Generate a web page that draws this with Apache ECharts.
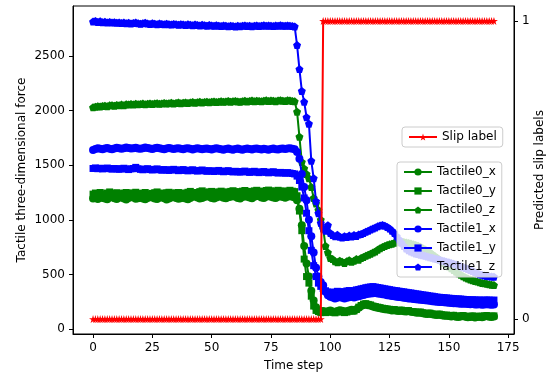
<!DOCTYPE html>
<html>
<head>
<meta charset="utf-8">
<script src="https://cdn.jsdelivr.net/npm/echarts@6/dist/echarts.min.js"></script>
<style>html,body{margin:0;padding:0;background:#fff}#c{width:552px;height:374px}</style>
</head>
<body>
<div id="c"></div>
<script>
// ---- data ----
const seriesNames = ['Tactile0_x','Tactile0_y','Tactile0_z','Tactile1_x','Tactile1_y','Tactile1_z'];
const slipName = 'Slip label';
const xTicks = [0,25,50,75,100,125,150,175];
const yTicks = [0,500,1000,1500,2000,2500];
const slipTicks = [0,1];

const tactile0_x = [
1195,1205,1190,1210,1200,1195,1188,1205,1212,1198,
1190,1202,1208,1195,1185,1200,1210,1203,1192,1198,
1205,1196,1188,1200,1212,1205,1195,1190,1202,1208,
1198,1186,1195,1205,1210,1200,1192,1198,1206,1195,
1188,1200,1210,1215,1205,1196,1200,1208,1220,1212,
1200,1195,1205,1215,1210,1202,1198,1206,1212,1218,
1210,1200,1195,1208,1215,1210,1205,1198,1212,1220,
1215,1205,1200,1210,1218,1212,1205,1200,1210,1215,
1208,1202,1212,1218,1210,1205,
1180,1100,950,760,600,480,350,260,200,170,160,
165,158,162,170,160,155,165,172,168,160,
162,170,175,168,180,195,210,220,225,218,
215,205,200,195,190,185,180,178,175,170,
172,168,165,170,162,160,165,158,155,150,
148,152,145,140,138,142,135,130,128,132,
125,120,122,118,115,120,112,110,115,118,
112,108,110,115,105,110,112,108,115,118,
112,110,115];

const tactile0_y = [
1235,1245,1240,1250,1238,1232,1245,1255,1242,1236,
1248,1240,1232,1245,1250,1242,1238,1246,1252,1240,
1235,1244,1250,1238,1230,1242,1248,1255,1245,1240,
1236,1248,1252,1244,1238,1246,1250,1242,1236,1245,
1252,1260,1248,1242,1250,1258,1265,1252,1246,1255,
1260,1250,1245,1256,1262,1255,1248,1252,1260,1266,
1258,1250,1256,1262,1268,1260,1254,1258,1265,1270,
1262,1255,1260,1268,1272,1265,1258,1262,1270,1265,
1260,1256,1264,1270,1262,1258,
1220,1080,900,640,480,420,300,210,170,160,150,
155,150,158,162,152,148,155,160,158,150,
155,162,170,165,178,200,215,228,232,225,
220,210,205,200,195,190,186,182,180,176,
178,172,168,172,165,162,168,160,158,155,
150,155,148,145,140,145,138,135,132,136,
130,125,128,122,120,125,118,115,120,122,
118,112,115,120,110,115,118,112,120,122,
118,115,120];

const tactile0_z = [
2030,2035,2040,2038,2042,2045,2040,2048,2050,2045,
2052,2048,2055,2050,2058,2055,2060,2056,2062,2058,
2060,2064,2058,2062,2066,2060,2065,2068,2062,2066,
2070,2065,2068,2072,2066,2070,2074,2068,2072,2075,
2070,2074,2078,2072,2076,2080,2074,2078,2082,2076,
2080,2084,2078,2082,2086,2080,2084,2088,2082,2086,
2088,2084,2080,2086,2090,2084,2088,2092,2086,2090,
2088,2085,2090,2094,2088,2092,2090,2086,2092,2095,
2090,2088,2094,2092,2088,2085,
1990,1760,1530,1470,1420,1380,1300,1200,1150,1090,1000,
920,760,700,650,640,620,610,625,615,605,
620,630,615,625,640,635,650,660,670,680,
690,700,710,725,740,750,760,770,775,780,
790,795,800,800,796,792,788,782,776,770,
762,752,740,728,714,700,684,668,652,636,
620,604,588,572,556,540,524,510,496,484,
472,462,454,446,440,434,428,422,418,414,
410,406,402];

const tactile1_x = [
1640,1648,1655,1650,1645,1652,1658,1650,1646,1654,
1660,1655,1650,1656,1662,1658,1652,1656,1660,1654,
1650,1656,1662,1658,1652,1648,1655,1660,1656,1650,
1646,1652,1658,1654,1648,1652,1656,1650,1646,1652,
1656,1650,1644,1650,1655,1650,1645,1650,1654,1648,
1644,1650,1655,1650,1646,1642,1648,1652,1646,1642,
1648,1652,1646,1642,1648,1652,1648,1644,1650,1654,
1648,1644,1650,1646,1642,1648,1652,1646,1644,1650,
1654,1648,1652,1656,1650,1645,
1620,1560,1420,1300,1180,1000,850,700,560,480,430,
400,340,310,295,288,280,285,292,286,280,
285,290,295,288,296,300,306,312,318,322,
325,328,330,326,322,318,315,310,306,302,
300,296,292,290,286,284,280,278,275,272,
270,268,265,262,260,258,255,252,250,248,
246,244,242,240,238,236,235,234,232,230,
230,228,226,228,225,224,226,222,224,226,
224,222,225];

const tactile1_y = [
1470,1475,1468,1472,1466,1470,1474,1468,1464,1470,
1466,1462,1468,1472,1465,1460,1466,1470,1480,1468,
1462,1458,1464,1468,1460,1456,1462,1466,1458,1454,
1460,1456,1452,1458,1462,1456,1450,1455,1460,1452,
1448,1454,1458,1450,1446,1452,1456,1448,1444,1450,
1446,1442,1448,1452,1444,1440,1446,1450,1442,1438,
1444,1440,1436,1442,1446,1438,1434,1440,1444,1436,
1432,1438,1442,1434,1430,1436,1440,1432,1428,1434,
1430,1426,1432,1428,1424,1420,
1400,1360,1300,1200,1060,900,720,580,480,420,390,
370,350,340,335,330,338,345,340,335,342,
348,352,345,350,358,362,368,372,378,382,
385,388,384,380,376,372,368,364,360,356,
352,350,346,342,340,336,332,330,326,322,
320,316,312,310,306,302,300,296,292,290,
288,286,284,282,280,278,276,275,274,272,
270,268,266,268,265,264,266,262,264,266,
264,262,265];

const tactile1_z = [
2815,2820,2812,2818,2810,2814,2808,2812,2806,2810,
2804,2808,2802,2806,2800,2805,2798,2802,2806,2800,
2796,2800,2804,2798,2794,2800,2796,2792,2798,2794,
2790,2796,2792,2788,2794,2790,2786,2792,2788,2784,
2790,2786,2782,2788,2784,2780,2786,2782,2778,2784,
2780,2776,2782,2778,2774,2780,2776,2772,2778,2774,
2770,2776,2772,2776,2780,2774,2778,2772,2776,2780,
2774,2778,2782,2776,2780,2778,2774,2780,2776,2782,
2778,2776,2780,2776,2774,2770,
2600,2380,2180,2080,1940,1880,1540,1380,1170,1060,970,
920,900,950,880,860,850,862,845,838,850,
842,855,848,860,852,865,870,880,890,900,
910,920,930,940,948,952,945,935,920,900,
880,850,820,790,760,738,720,710,700,692,
686,680,675,670,664,658,652,646,640,634,
628,622,616,610,604,598,590,582,574,566,
558,550,540,530,520,510,502,496,490,486,
482,480,478];

const slipLabel = [
0,0,0,0,0,0,0,0,0,0,
0,0,0,0,0,0,0,0,0,0,
0,0,0,0,0,0,0,0,0,0,
0,0,0,0,0,0,0,0,0,0,
0,0,0,0,0,0,0,0,0,0,
0,0,0,0,0,0,0,0,0,0,
0,0,0,0,0,0,0,0,0,0,
0,0,0,0,0,0,0,0,0,0,
0,0,0,0,0,0,0,0,0,0,
0,0,0,0,0,0,0,
1,1,1,
1,1,1,1,1,1,1,1,1,1,
1,1,1,1,1,1,1,1,1,1,
1,1,1,1,1,1,1,1,1,1,
1,1,1,1,1,1,1,1,1,1,
1,1,1,1,1,1,1,1,1,1,
1,1,1,1,1,1,1,1,1,1,
1,1,1,1,1,1,1,1,1,1];

// ---- chart ----
const FONT = 'DejaVu Sans';
const PENTAGON = 'path://M0,-1 L0.951,-0.309 L0.588,0.809 L-0.588,0.809 L-0.951,-0.309 Z';
const STAR = 'path://M0,-1 L0.2245,-0.309 L0.951,-0.309 L0.363,0.118 L0.588,0.809 L0,0.382 L-0.588,0.809 L-0.363,0.118 L-0.951,-0.309 L-0.2245,-0.309 Z';
const tactileData = [tactile0_x, tactile0_y, tactile0_z, tactile1_x, tactile1_y, tactile1_z];
const colors = ['#008000','#008000','#008000','#0000ff','#0000ff','#0000ff'];
const symbols = ['circle','rect',PENTAGON,'circle','rect',PENTAGON];
const sizes = [8,7,8,8,7,8];
const pair = arr => arr.map((v, i) => [i, v]);

const series = tactileData.map((arr, k) => ({
  name: seriesNames[k], type: 'line', xAxisIndex: 0, yAxisIndex: 0,
  data: pair(arr), symbol: symbols[k], symbolSize: sizes[k], showSymbol: true,
  lineStyle: { width: 2, color: colors[k] }, itemStyle: { color: colors[k] },
  emphasis: { disabled: true }, z: 2 + k
}));
series.push({
  name: slipName, type: 'line', xAxisIndex: 0, yAxisIndex: 1,
  data: pair(slipLabel), symbol: STAR, symbolSize: 8, showSymbol: true,
  lineStyle: { width: 2, color: '#ff0000' }, itemStyle: { color: '#ff0000' },
  emphasis: { disabled: true }, z: 10
});

const plain = v => String(v);
const axisCommon = {
  axisLine: { show: true, onZero: false, lineStyle: { color: '#000', width: 1 } },
  axisTick: { show: true, length: 4, lineStyle: { color: '#000' } },
  axisLabel: { color: '#000', fontFamily: FONT, fontSize: 12, margin: 8, formatter: plain },
  splitLine: { show: false },
  nameMoveOverlap: false,
  nameTextStyle: { color: '#000', fontFamily: FONT, fontSize: 12 }
};

const legendCommon = {
  orient: 'vertical', backgroundColor: 'rgba(255,255,255,0.8)',
  borderColor: '#cccccc', borderWidth: 1, borderRadius: 3,
  itemWidth: 28, itemHeight: 9, itemGap: 7, selectedMode: false, z: 30,
  textStyle: { color: '#000', fontFamily: FONT, fontSize: 12 }
};

const chart = echarts.init(document.getElementById('c'), null, { renderer: 'canvas' });
chart.setOption({
  animation: false,
  backgroundColor: '#fff',
  grid: { left: 73, right: 38, top: 6, bottom: 40, containLabel: false, outerBoundsMode: 'none',
          show: true, borderColor: '#000', borderWidth: 1, backgroundColor: 'transparent' },
  legend: [
    Object.assign({}, legendCommon, { data: [slipName], left: 402, top: 127, padding: [4, 6, 4, 6] }),
    Object.assign({}, legendCommon, { data: seriesNames, left: 397, top: 162, padding: [4, 6, 4, 6] })
  ],
  xAxis: [Object.assign({}, axisCommon, {
    type: 'value', min: -8.45, max: 177.45,
    name: 'Time step', nameLocation: 'middle', nameGap: 26,
    axisTick: Object.assign({}, axisCommon.axisTick, { customValues: xTicks }),
    axisLabel: Object.assign({}, axisCommon.axisLabel, { customValues: xTicks })
  })],
  yAxis: [
    Object.assign({}, axisCommon, {
      type: 'value', position: 'left', min: -46, max: 2958,
      name: 'Tactile three-dimensional force', nameLocation: 'middle', nameGap: 45,
      axisTick: Object.assign({}, axisCommon.axisTick, { customValues: yTicks }),
      axisLabel: Object.assign({}, axisCommon.axisLabel, { customValues: yTicks })
    }),
    Object.assign({}, axisCommon, {
      type: 'value', position: 'right', min: -0.05, max: 1.05,
      name: 'Predicted slip labels', nameLocation: 'middle', nameGap: 20,
      axisTick: Object.assign({}, axisCommon.axisTick, { customValues: slipTicks }),
      axisLabel: Object.assign({}, axisCommon.axisLabel, { customValues: slipTicks })
    })
  ],
  series: series
});
</script>
</body>
</html>
